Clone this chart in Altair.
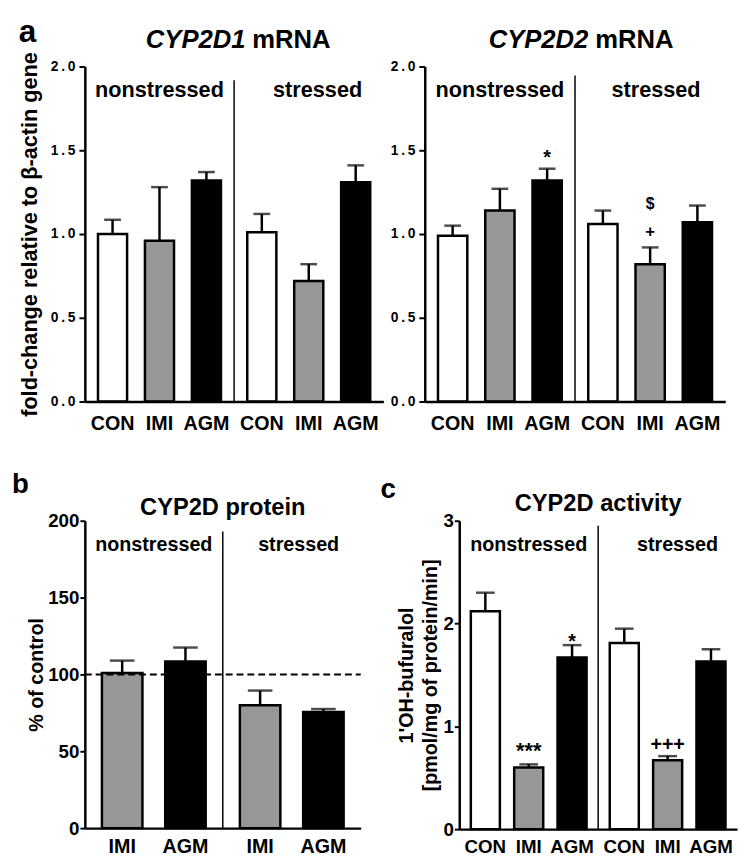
import altair as alt
import pandas as pd

FONT = "Liberation Sans"
GROUPS = ["nonstressed", "stressed"]
TREAT3 = ["CON", "IMI", "AGM"]
TREAT2 = ["IMI", "AGM"]
FILL_DOMAIN = ["CON", "IMI", "AGM"]
FILL_RANGE = ["white", "#979797", "black"]

# ---- panel a: CYP2D1 mRNA (fold change) ----
d1_mean = [1.00, 0.96, 1.32, 1.01, 0.72, 1.31]
d1_sem = [0.085, 0.32, 0.05, 0.11, 0.10, 0.10]
# ---- panel a: CYP2D2 mRNA ----
d2_mean = [0.99, 1.14, 1.32, 1.06, 0.82, 1.07]
d2_sem = [0.06, 0.13, 0.07, 0.08, 0.10, 0.10]
d2_ann_label = ["*", "+", "$"]
d2_ann_group = ["nonstressed", "stressed", "stressed"]
d2_ann_treat = ["AGM", "IMI", "IMI"]
d2_ann_y = [1.42, 0.98, 1.15]
# ---- panel b: CYP2D protein (% of control) ----
prot_mean = [101, 108.5, 80, 75.5]
prot_sem = [8, 9, 9.5, 2]
# ---- panel c: CYP2D activity ----
act_mean = [2.12, 0.60, 1.67, 1.81, 0.67, 1.63]
act_sem = [0.18, 0.03, 0.12, 0.14, 0.04, 0.12]
act_ann_label = ["***", "*", "+++"]
act_ann_group = ["nonstressed", "nonstressed", "stressed"]
act_ann_treat = ["IMI", "AGM", "IMI"]
act_ann_y = [0.69, 1.76, 0.76]

ONE = pd.DataFrame({"k": [0]})
ANN_SIZE = {"*": 20, "***": 22, "+": 17, "$": 16, "+++": 20}


def text_layer(txt, x, y, size, align="left", italic=False):
    return alt.Chart(ONE).mark_text(
        text=txt, font=FONT, fontSize=size, fontWeight="bold",
        fontStyle="italic" if italic else "normal", align=align,
        baseline="alphabetic", color="black",
    ).encode(x=alt.value(x), y=alt.value(y))


def panel(mean, sem, treats, ymax, ticks, W, H, pi, po, cap, axis, box,
          sep_top, glab_fs, stressed_dx, xlab_fs, xlab_y, extra=(),
          ann=None, dashed=None):
    rows = [{"group": g, "treatment": t} for g in GROUPS for t in treats]
    df = pd.DataFrame(rows)
    df["mean"] = mean
    df["hi"] = [m + s for m, s in zip(mean, sem)]

    xs = alt.Scale(domain=GROUPS, paddingInner=0, paddingOuter=0)
    xos = alt.Scale(domain=treats, paddingInner=pi, paddingOuter=po)
    ys = alt.Scale(domain=[0, ymax], nice=False, zero=True)
    xaxis = alt.Axis(labels=False, ticks=False, title=None, domainWidth=2.5,
                     domainColor="black", zindex=1)

    def X(**kw):
        return alt.X("group:N", scale=xs, axis=xaxis, **kw)

    def XO():
        return alt.XOffset("treatment:N", scale=xos)

    def Y(field):
        return alt.Y(field, scale=ys, axis=axis)

    layers = []
    # invisible frame that fixes this panel's outer box in the layout
    layers.append(alt.Chart(ONE).mark_rule(color="white", strokeWidth=1).encode(
        x=alt.value(box[0]), x2=alt.value(box[1]),
        y=alt.value(box[2]), y2=alt.value(box[3])))

    base = alt.Chart(df)
    layers.append(base.mark_bar(stroke="black", strokeWidth=2.5).encode(
        x=X(), xOffset=XO(), y=Y("mean:Q"),
        fill=alt.Fill("treatment:N", scale=alt.Scale(domain=FILL_DOMAIN, range=FILL_RANGE),
                      legend=None)))
    layers.append(base.mark_rule(color="black", strokeWidth=2.5).encode(
        x=X(), xOffset=XO(), y=Y("mean:Q"), y2="hi:Q"))
    layers.append(base.mark_tick(color="black", thickness=2.5, size=cap).encode(
        x=X(), xOffset=XO(), y=Y("hi:Q")))
    layers.append(base.mark_text(font=FONT, fontWeight="bold", fontSize=xlab_fs,
                                 baseline="alphabetic", color="black").encode(
        x=X(), xOffset=XO(), y=alt.value(H + xlab_y), text="treatment:N"))

    # separator between groups
    sep = pd.DataFrame({"group": ["stressed"]})
    layers.append(alt.Chart(sep).mark_rule(color="black", strokeWidth=1.5).encode(
        x=X(bandPosition=0), y=alt.value(sep_top), y2=alt.value(H)))

    gdf = pd.DataFrame({"group": GROUPS})
    for g, dx in zip(GROUPS, [0, stressed_dx]):
        layers.append(alt.Chart(gdf).transform_filter(alt.datum.group == g).mark_text(
            font=FONT, fontWeight="bold", fontSize=glab_fs, baseline="alphabetic",
            color="black", dx=dx).encode(x=X(), y=alt.value(31), text="group:N"))

    if dashed is not None:
        ddf = pd.DataFrame({"v": [dashed]})
        layers.append(alt.Chart(ddf).mark_rule(color="black", strokeWidth=2,
                                               strokeDash=[7, 4]).encode(
            y=Y("v:Q"), x=alt.value(0), x2=alt.value(W)))

    if ann is not None:
        labels, groups, treats_a, ys_a = ann
        for lab, g, t, yv in zip(labels, groups, treats_a, ys_a):
            adf = pd.DataFrame({"group": [g], "treatment": [t], "y": [yv], "label": [lab]})
            layers.append(alt.Chart(adf).mark_text(
                font=FONT, fontWeight="bold", fontSize=ANN_SIZE[lab],
                baseline="alphabetic", color="black").encode(
                x=X(), xOffset=XO(), y=Y("y:Q"), text="label:N"))

    layers.extend(extra)
    return alt.layer(*layers).properties(width=W, height=H)


def yaxis(title, values, lfs, tfs, tick, lpad, tpad, expr=None, lh=None):
    kw = dict(title=title, values=values, labelFont=FONT, labelFontSize=lfs,
              labelFontWeight="bold", labelColor="black", titleFont=FONT,
              titleFontSize=tfs, titleFontWeight="bold", titleColor="black",
              domainColor="black", domainWidth=2.5, tickColor="black", tickWidth=2,
              tickSize=tick, labelPadding=lpad, titlePadding=tpad, grid=False, zindex=1)
    if expr:
        kw["labelExpr"] = expr
    if lh:
        kw["titleLineHeight"] = lh
    return alt.Axis(**kw)


SP = chr(0x2009)
a_expr = f"join(split(format(datum.value, '.1f'), ''), '{SP}')"
a_ticks = [0, 0.5, 1.0, 1.5, 2.0]
TOP1 = -52

# panel a1
W1, H1 = 303, 340
a1 = panel(
    d1_mean, d1_sem, TREAT3, 2.0, a_ticks, W1, H1, 0.38, 0.28, 17,
    yaxis("fold-change relative to β-actin gene", a_ticks, 14, 22, 6, 4, 9, expr=a_expr),
    box=(-77, W1 + 2, TOP1, H1 + 40), sep_top=14, glab_fs=22, stressed_dx=9,
    xlab_fs=20, xlab_y=29,
    extra=[
        text_layer("a", -67, -25, 32),
        text_layer("CYP2D1", W1 / 2 + 11.5, -19, 26, align="right", italic=True),
        text_layer("mRNA", W1 / 2 + 18.5, -19, 26),
    ],
)

# panel a2
W2, H2 = 305, 340
a2 = panel(
    d2_mean, d2_sem, TREAT3, 2.0, a_ticks, W2, H2, 0.38, 0.28, 17,
    yaxis(None, a_ticks, 14, 22, 6, 4, 9, expr=a_expr),
    box=(-38, W2 + 8, TOP1, H2 + 40), sep_top=9, glab_fs=22, stressed_dx=6,
    xlab_fs=20, xlab_y=29,
    ann=(d2_ann_label, d2_ann_group, d2_ann_treat, d2_ann_y),
    extra=[
        text_layer("CYP2D2", W2 / 2 + 13.5, -19, 26, align="right", italic=True),
        text_layer("mRNA", W2 / 2 + 20.5, -19, 26),
    ],
)

# panel b
W3, H3 = 280, 312
b_ticks = [0, 50, 100, 150, 200]
b = panel(
    prot_mean, prot_sem, TREAT2, 200, b_ticks, W3, H3, 0.36, 0.27, 25,
    yaxis("% of control", b_ticks, 19, 20, 5, 1, 1),
    box=(-74, W3 + 10, -79, H3 + 25), sep_top=11, glab_fs=20, stressed_dx=7,
    xlab_fs=20, xlab_y=25, dashed=100,
    extra=[
        text_layer("b", -74, -28, 28),
        text_layer("CYP2D protein", W3 / 2, -6, 24, align="center"),
    ],
)

# panel c
W4, H4 = 282, 313
c_ticks = [0, 1, 2, 3]
c = panel(
    act_mean, act_sem, TREAT3, 3, c_ticks, W4, H4, 0.33, 0.267, 19,
    yaxis(["1'OH-bufuralol", "[pmol/mg of protein/min]"], c_ticks, 19, 20, 5, 1, 3, lh=24),
    box=(-88, W4 + 5, -74, H4 + 29), sep_top=5, glab_fs=20, stressed_dx=10,
    xlab_fs=19, xlab_y=24,
    ann=(act_ann_label, act_ann_group, act_ann_treat, act_ann_y),
    extra=[
        text_layer("c", -80, -23, 28),
        text_layer("CYP2D activity", W4 / 2, -10, 24, align="center"),
    ],
)

IND = dict(xOffset="independent", x="independent", y="independent")
row1 = alt.hconcat(a1, a2, spacing=0).resolve_scale(**IND)
row2 = alt.hconcat(b, c, spacing=0).resolve_scale(**IND)
chart = (
    alt.vconcat(row1, row2, spacing=0)
    .resolve_scale(**IND)
    .properties(padding=0)
    .configure_view(stroke=None)
)

chart.save("out.html", embed_options={"renderer": "svg", "actions": False})
